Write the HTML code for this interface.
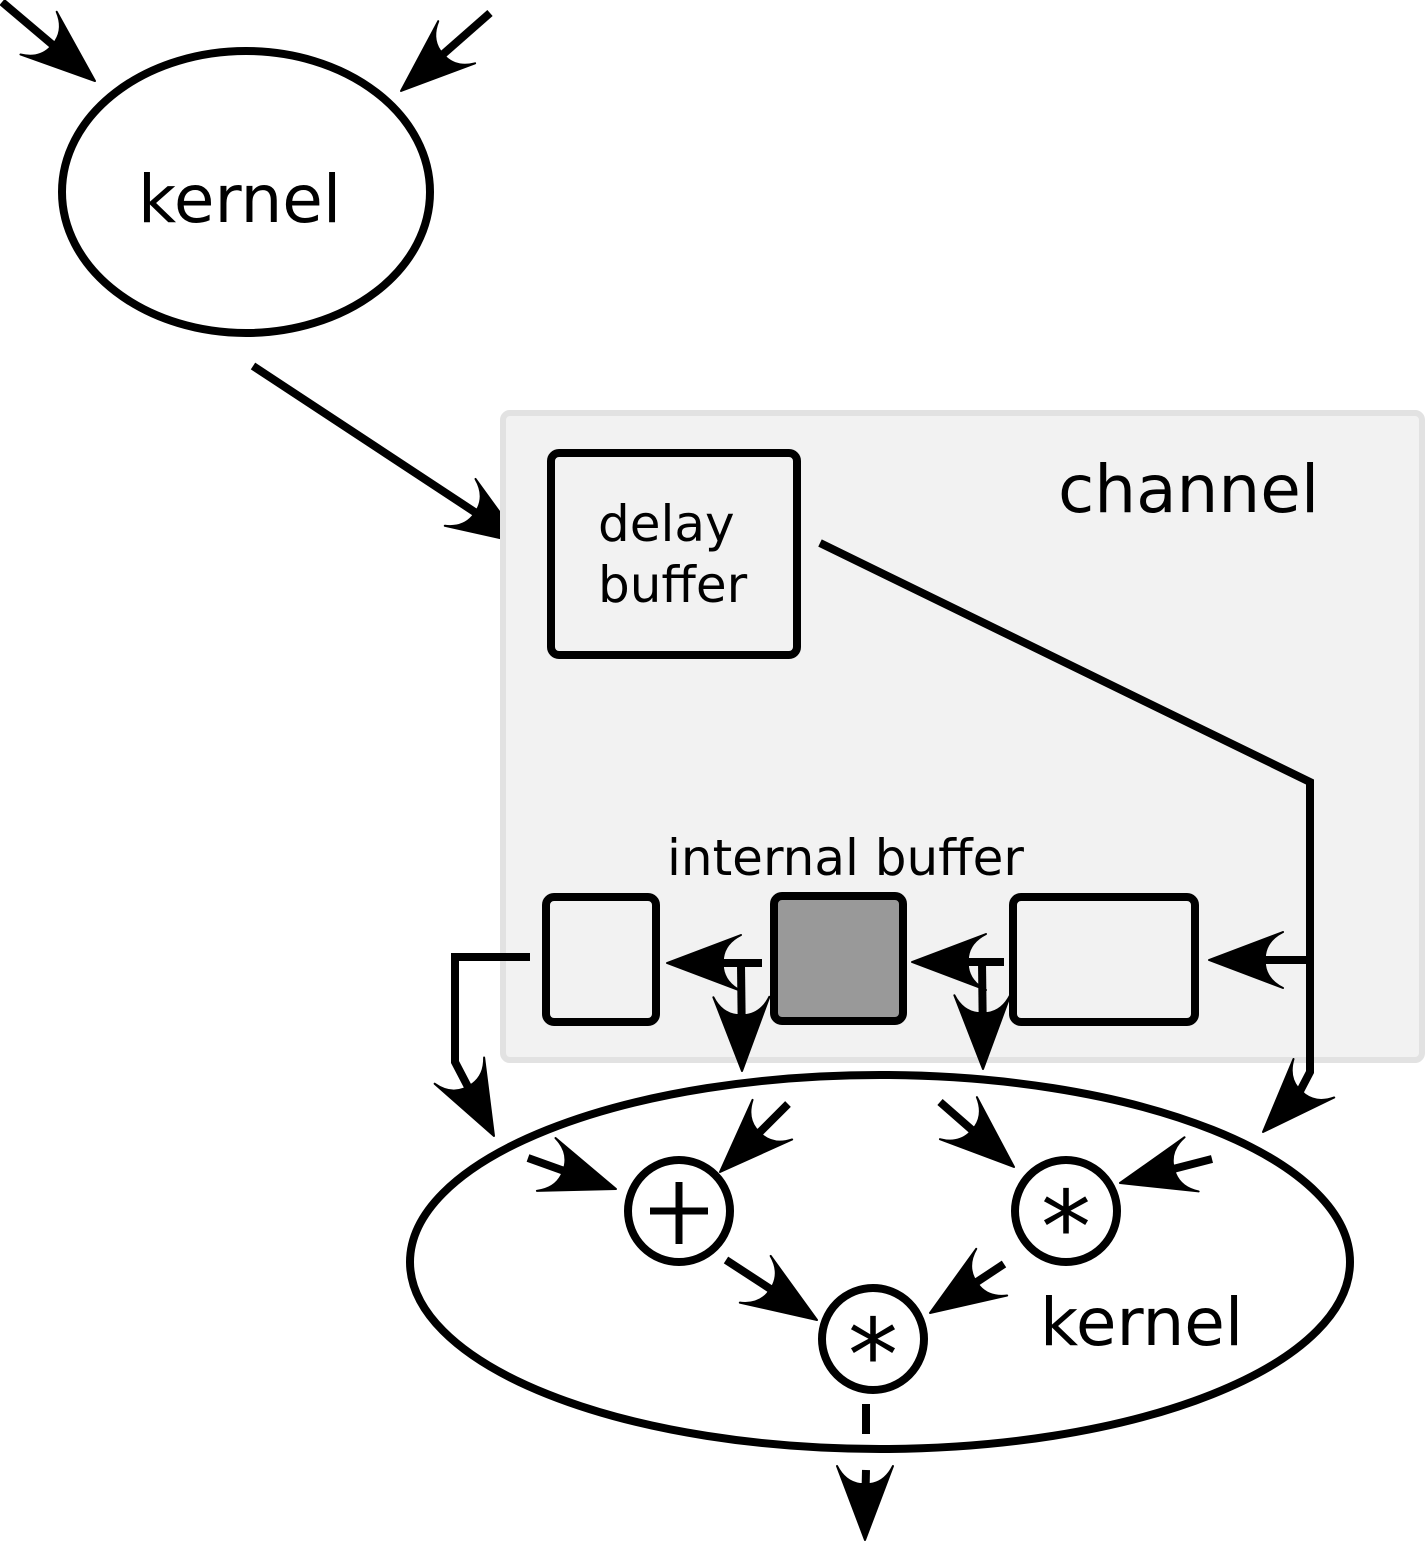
<!DOCTYPE html>
<html><head><meta charset="utf-8"><style>
html,body{margin:0;padding:0;background:#fff;}
svg{display:block;}
text{font-family:"DejaVu Sans","Liberation Sans",sans-serif;fill:#000;}
</style></head><body>
<svg width="1426" height="1542" viewBox="0 0 1426 1542" xmlns="http://www.w3.org/2000/svg">
<defs>
<path id="h" d="M0,0 L-74,-28 Q-58,-20 -56,-5 L-56,5 Q-58,20 -74,28 Z" fill="#000" stroke="#000" stroke-width="2" stroke-linejoin="round"/>
</defs>
<g fill="none" stroke="#000" stroke-width="8">
<ellipse cx="246" cy="192" rx="184" ry="141"/>
<line x1="2" y1="2" x2="80" y2="68"/>
<line x1="490" y1="13" x2="416" y2="78"/>
<line x1="253" y1="366" x2="505" y2="532"/>
</g>
<use href="#h" transform="translate(95,81) rotate(40.3)"/>
<use href="#h" transform="translate(401,91) rotate(138.8)"/>
<use href="#h" transform="translate(522,543) rotate(33.3)"/>
<text x="138" y="222" font-size="66">kernel</text>
<rect x="503" y="413" width="919" height="647" rx="7" fill="#f2f2f2" stroke="#e2e2e2" stroke-width="6"/>
<text x="1058" y="512" font-size="66">channel</text>
<g fill="none" stroke="#000" stroke-width="8">
<rect x="551" y="453" width="246" height="202" rx="8" fill="#f2f2f2"/>
<polyline points="820,543 1310,782 1310,1072 1298,1095 1280,1114"/>
<rect x="546" y="897" width="110" height="125" rx="8" fill="#f2f2f2"/>
<rect x="774" y="896" width="129" height="125" rx="8" fill="#999"/>
<rect x="1013" y="897" width="182" height="125" rx="8" fill="#f2f2f2"/>
<line x1="1314" y1="960" x2="1230" y2="960"/>
<line x1="1004" y1="962" x2="935" y2="962"/>
<line x1="762" y1="963" x2="690" y2="963"/>
<line x1="982" y1="962" x2="983" y2="1045"/>
<line x1="741" y1="965" x2="742" y2="1048"/>
<polyline points="530,957 455,957 455,1062 467,1085 482,1114"/>
<line x1="528" y1="1158" x2="595" y2="1182"/>
<line x1="788" y1="1104" x2="736" y2="1156"/>
<line x1="940" y1="1102" x2="996" y2="1151"/>
<line x1="1212" y1="1159" x2="1142" y2="1177"/>
<line x1="726" y1="1260" x2="798" y2="1307"/>
<line x1="1004" y1="1264" x2="948" y2="1301"/>
<line x1="866" y1="1404" x2="866" y2="1434"/>
<line x1="866" y1="1470" x2="865" y2="1515"/>
</g>
<use href="#h" transform="translate(1263,1132) rotate(133.4)"/>
<use href="#h" transform="translate(1209,960) rotate(180)"/>
<use href="#h" transform="translate(912,962) rotate(180)"/>
<use href="#h" transform="translate(667,963) rotate(180)"/>
<use href="#h" transform="translate(983,1069) rotate(89.5)"/>
<use href="#h" transform="translate(742,1071) rotate(89.5)"/>
<use href="#h" transform="translate(494,1136) rotate(62.1)"/>
<text x="598" y="541" font-size="50">delay</text>
<text x="598" y="602" font-size="50">buffer</text>
<text x="667" y="875" font-size="50">internal buffer</text>
<g fill="none" stroke="#000" stroke-width="8">
<ellipse cx="880" cy="1262" rx="470" ry="187"/>
<circle cx="679" cy="1211" r="51" fill="#fff"/>
<circle cx="1066" cy="1211" r="51" fill="#fff"/>
<circle cx="873" cy="1339" r="51" fill="#fff"/>
<line x1="650" y1="1211" x2="708" y2="1211" stroke-width="7"/>
<line x1="679" y1="1182" x2="679" y2="1244" stroke-width="7"/>
</g>
<use href="#h" transform="translate(616,1189) rotate(19.4)"/>
<use href="#h" transform="translate(720,1172) rotate(135)"/>
<use href="#h" transform="translate(1014,1167) rotate(41.3)"/>
<use href="#h" transform="translate(1120,1183) rotate(165.4)"/>
<use href="#h" transform="translate(817,1320) rotate(33.4)"/>
<use href="#h" transform="translate(930,1313) rotate(146.5)"/>
<use href="#h" transform="translate(865,1540) rotate(90)"/>
<text x="1066" y="1262" font-size="100" text-anchor="middle">*</text>
<text x="873" y="1390" font-size="100" text-anchor="middle">*</text>
<text x="1040" y="1345" font-size="66">kernel</text>
</svg>
</body></html>
